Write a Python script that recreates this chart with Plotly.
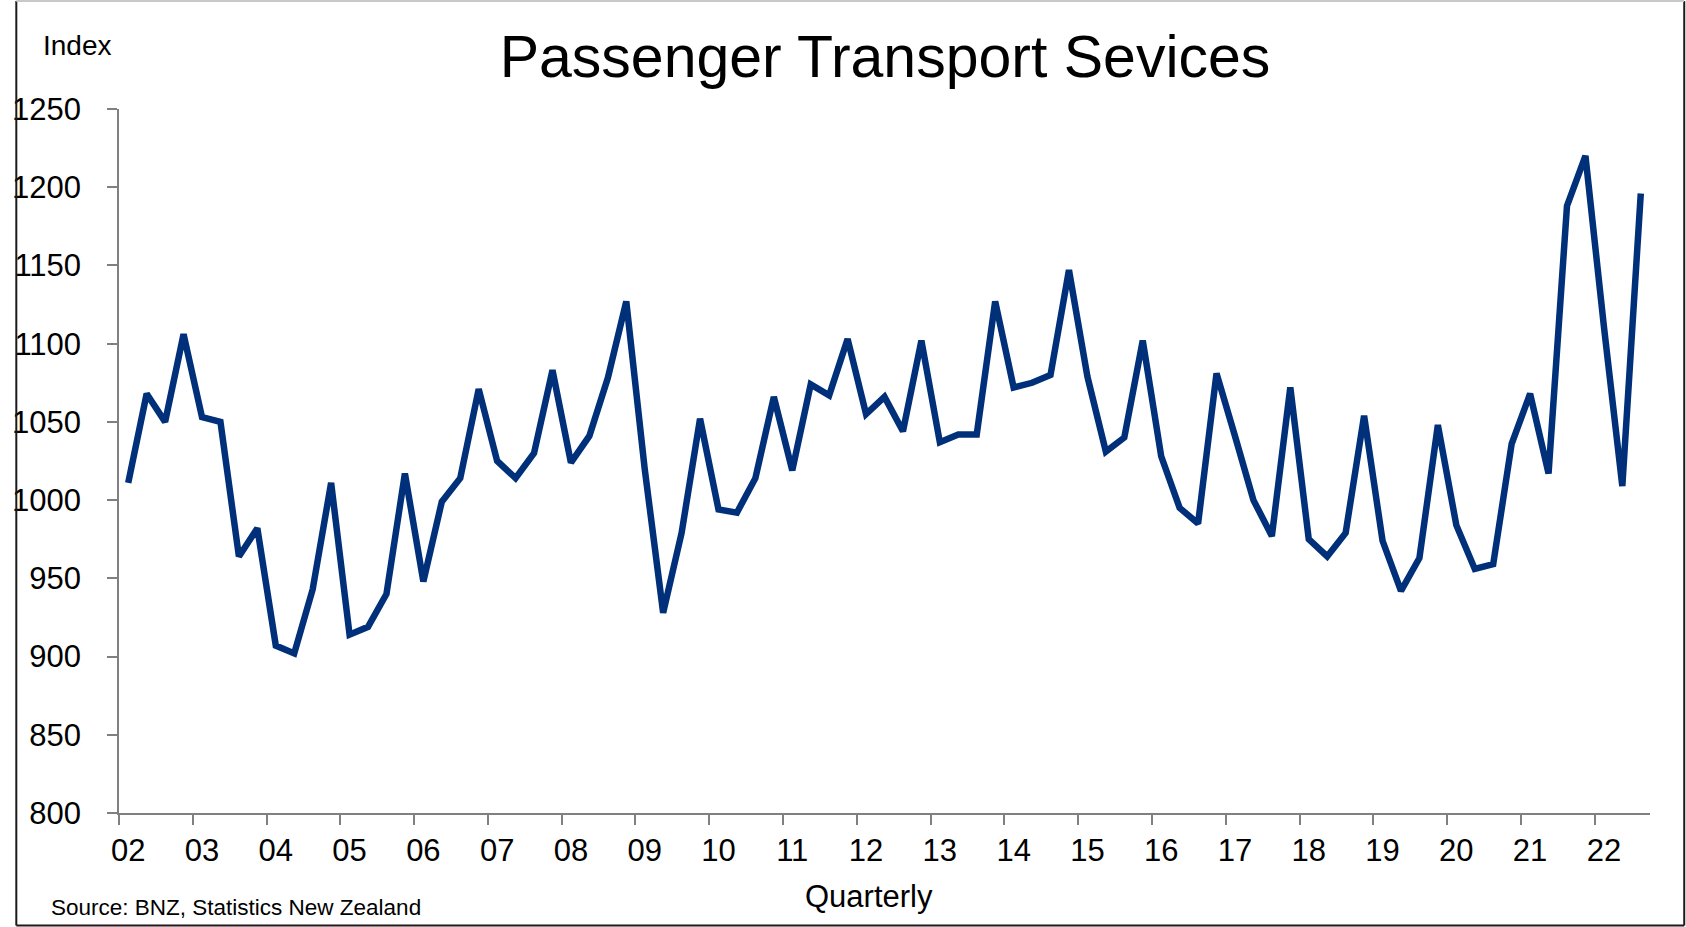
import plotly.graph_objects as go

# ---- data (quarterly, 2002Q1 .. 2022Q3) ----
values = [
    1011, 1068, 1050, 1106, 1053, 1050, 964, 982,       # 02-03
    907, 902, 943, 1011, 914, 919, 940, 1017,           # 04-05
    948, 999, 1014, 1071, 1025, 1014, 1030, 1083,       # 06-07
    1024, 1041, 1078, 1127, 1020, 928, 979, 1052,       # 08-09
    994, 992, 1014, 1066, 1019, 1074, 1067, 1103,       # 10-11
    1055, 1066, 1044, 1102, 1037, 1042, 1042, 1127,     # 12-13
    1072, 1075, 1080, 1147, 1079, 1031, 1040, 1102,     # 14-15
    1028, 995, 985, 1081, 1041, 1000, 977, 1072,        # 16-17
    975, 964, 979, 1054, 974, 942, 963, 1048,           # 18-19
    984, 956, 959, 1036, 1068, 1017, 1188, 1220,        # 20-21
    1111, 1009, 1196,                                   # 22
]
year_labels = ["02", "03", "04", "05", "06", "07", "08", "09", "10", "11",
               "12", "13", "14", "15", "16", "17", "18", "19", "20", "21", "22"]
y_ticks = [800, 850, 900, 950, 1000, 1050, 1100, 1150, 1200, 1250]

title_text = "Passenger Transport Sevices"
y_label = "Index"
x_label = "Quarterly"
source_text = "Source: BNZ, Statistics New Zealand"

# ---- layout geometry ----
W, H = 1686, 927
ML, MR, MT, MB = 107, 36, 109, 114
PW = W - ML - MR
PH = H - MT - MB


def px_x(px):
    return (px - ML) / PW


def px_y(py):
    return (H - MB - py) / PH


n = len(values)
xs = list(range(n))
label_pos = [i * 4 for i in range(len(year_labels))]
boundary_pos = [i * 4 - 0.5 for i in range(len(year_labels))]

FONT = "Liberation Sans, Arial, sans-serif"
AXIS_COL = "#808080"
LINE_COL = "#00307a"

fig = go.Figure()
fig.add_trace(go.Scatter(
    x=xs, y=values, mode="lines",
    line=dict(color=LINE_COL, width=6.5, shape="linear"),
    hoverinfo="skip", showlegend=False,
))

fig.update_layout(
    width=W, height=H,
    margin=dict(l=ML, r=MR, t=MT, b=MB, pad=0),
    paper_bgcolor="white", plot_bgcolor="white",
    font=dict(family=FONT, color="black"),
    title=dict(text=title_text, x=885 / W, xanchor="center",
               y=1 - 56 / H, yanchor="middle", yref="container",
               font=dict(size=59, family=FONT, color="black")),
    showlegend=False,
)

fig.update_xaxes(
    range=[-0.5, n - 0.5],
    tickmode="array", tickvals=label_pos, ticktext=year_labels,
    ticks="outside", ticklen=5, tickcolor="rgba(0,0,0,0)",
    tickfont=dict(size=31, family=FONT, color="black"),
    ticklabelstandoff=4,
    showline=True, linecolor=AXIS_COL, linewidth=1.5,
    showgrid=False, zeroline=False,
    minor=dict(tickmode="array", tickvals=boundary_pos, ticks="outside",
               ticklen=10, tickcolor=AXIS_COL, tickwidth=1.5, showgrid=False),
)

fig.update_yaxes(
    range=[800, 1250],
    tickmode="array", tickvals=y_ticks, ticktext=[str(v) for v in y_ticks],
    ticks="outside", ticklen=10, tickcolor=AXIS_COL, tickwidth=1.5,
    tickfont=dict(size=31, family=FONT, color="black"),
    ticklabelstandoff=20,
    showline=True, linecolor=AXIS_COL, linewidth=1.5,
    showgrid=False, zeroline=False,
)

fig.add_annotation(text=y_label, xref="paper", yref="paper",
                   x=px_x(65), y=px_y(45), xanchor="center", yanchor="middle",
                   showarrow=False, font=dict(size=28, family=FONT, color="black"))
fig.add_annotation(text=x_label, xref="paper", yref="paper",
                   x=px_x(863), y=px_y(896), xanchor="center", yanchor="middle",
                   showarrow=False, font=dict(size=31, family=FONT, color="black"))
fig.add_annotation(text=source_text, xref="paper", yref="paper",
                   x=px_x(36), y=px_y(907), xanchor="left", yanchor="middle",
                   showarrow=False, font=dict(size=22.5, family=FONT, color="black"))

# frame around the chart
frame = [
    (3.5, 1, 3.5, 925.5, "#1a1a1a"),
    (3.5, 925.5, 1684.5, 925.5, "#1a1a1a"),
    (1684.5, 1, 1684.5, 925.5, "#1a1a1a"),
    (3.5, 1, 1684.5, 1, "#c8c8c8"),
]
for x0, y0, x1, y1, c in frame:
    fig.add_shape(type="line", xref="paper", yref="paper",
                  x0=px_x(x0), y0=px_y(y0), x1=px_x(x1), y1=px_y(y1),
                  line=dict(color=c, width=2), layer="above")

fig.write_html("out.html")
